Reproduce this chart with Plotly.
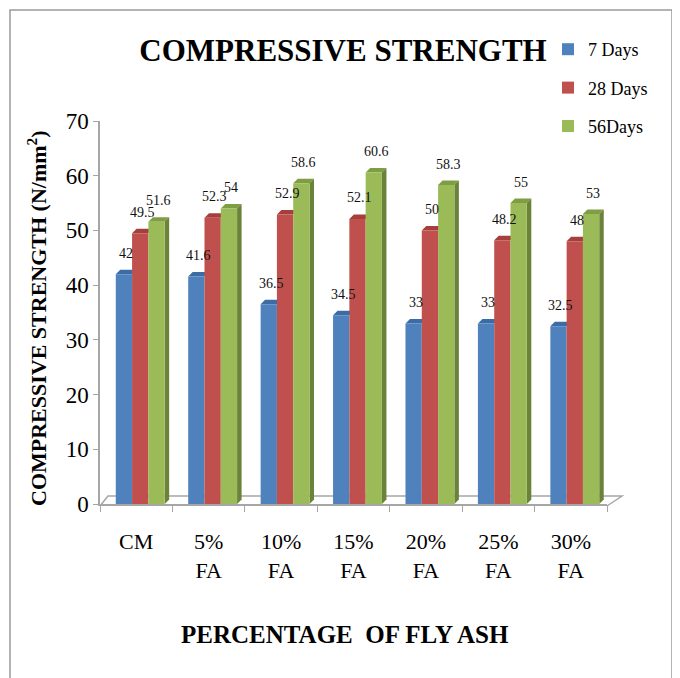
import plotly.graph_objects as go

categories = ["CM", "5%<br>FA", "10%<br>FA", "15%<br>FA", "20%<br>FA", "25%<br>FA", "30%<br>FA"]
days7 = [42, 41.6, 36.5, 34.5, 33, 33, 32.5]
days28 = [49.5, 52.3, 52.9, 52.1, 50, 48.2, 48]
days56 = [51.6, 54, 58.6, 60.6, 58.3, 55, 53]
series_names = ["7 Days", "28 Days", "56Days"]
colors = ["#4F81BD", "#C0504D", "#9BBB59"]
top_colors = ["#3C6CA6", "#A53F3C", "#7F9D43"]
side_colors = ["#375F8F", "#8C3836", "#6A823A"]

FONT = "Liberation Serif, Times New Roman, serif"

# reference pixel geometry (page body has an 8px margin)
OFF = 8
L, R, T, B = 100, 607, 121, 504
PW, PH = 680, 678
W, H = PW - OFF, PH - OFF

def px(x):
    return (x - L) / (R - L)

def py(y):
    return (B - y) / (B - T)

BARGAP = 0.325
nser = 3
bw = (1 - BARGAP) / nser
cat_px = (R - L) / len(categories)
ypx = (B - T) / 70.0
dx = 4.5 / cat_px
dy = 4.5 / ypx
sh = 4.0 / cat_px

fig = go.Figure()
shapes = []
annotations = []
all_vals = [days7, days28, days56]
for k, (name, vals, c) in enumerate(zip(series_names, all_vals, colors)):
    off = (k - nser / 2) * bw + sh
    fig.add_trace(go.Bar(
        x=categories, y=vals, name=name, legendgroup=name,
        width=bw, offset=off,
        marker=dict(color=c, line=dict(width=0)),
        cliponaxis=False,
    ))
    for i, v in enumerate(vals):
        xl = i + off
        xr = xl + bw
        xc = (xl + xr) / 2
        shapes.append(dict(type="path", xref="x", yref="y", layer="between",
                           path=f"M {xl},{v} L {xr},{v} L {xr+dx},{v+dy} L {xl+dx},{v+dy} Z",
                           fillcolor=top_colors[k], line=dict(width=0)))
        if k == nser - 1:
            shapes.append(dict(type="path", xref="x", yref="y", layer="between",
                               path=f"M {xr},0 L {xr+dx},{dy} L {xr+dx},{v+dy} L {xr},{v} Z",
                               fillcolor=side_colors[k], line=dict(width=0)))
        annotations.append(dict(x=xc + dx / 2, y=v + dy, xref="x", yref="y",
                                text=f"{v:g}", showarrow=False, yanchor="bottom",
                                xanchor="center", yshift=7,
                                font=dict(family=FONT, size=14, color="#111")))

shapes += [
    dict(type="rect", xref="paper", yref="paper", x0=px(10), x1=px(672), y0=py(700), y1=py(10),
         line=dict(color="#9a9a9a", width=1.5), layer="below"),
    dict(type="path", xref="paper", yref="paper",
         path=f"M {px(L)},{py(506)} L {px(L + 8)},{py(496)} L {px(622)},{py(496)} L {px(R)},{py(506)}",
         line=dict(color="#a6a6a6", width=1.5), layer="below"),
]

annotations += [
    dict(text="<b>PERCENTAGE  OF FLY ASH</b>", xref="paper", yref="paper", x=px(345), y=py(634),
         showarrow=False, font=dict(family=FONT, size=25, color="black"), xanchor="center", yanchor="middle"),
    dict(text="<b>COMPRESSIVE STRENGTH (N/mm<sup>2</sup>)</b>", xref="paper", yref="paper", x=px(37), y=py(318),
         showarrow=False, textangle=-90, font=dict(family=FONT, size=22, color="black"),
         xanchor="center", yanchor="middle"),
]

fig.update_layout(
    width=W, height=H,
    margin=dict(l=L - OFF, r=PW - R, t=T - OFF, b=PH - B, autoexpand=False),
    paper_bgcolor="white", plot_bgcolor="white",
    barmode="overlay",
    title=dict(text="<b>COMPRESSIVE STRENGTH</b>", x=(343 - OFF) / W, xanchor="center",
               y=1 - (50 - OFF) / H, yanchor="middle", font=dict(family=FONT, size=31, color="black")),
    legend=dict(x=px(548), y=py(31), xanchor="left", yanchor="top",
                font=dict(family=FONT, size=18, color="black"), tracegroupgap=12,
                itemwidth=30, bgcolor="rgba(0,0,0,0)"),
    xaxis=dict(showline=True, linecolor="#a6a6a6", linewidth=1.5, ticks="outside",
               tickcolor="#a6a6a6", ticklen=6, tickson="boundaries", ticklabelstandoff=17,
               tickfont=dict(family=FONT, size=22, color="black"), showgrid=False),
    yaxis=dict(range=[0, 70], dtick=10, showline=True, linecolor="#a6a6a6", linewidth=1.5,
               ticks="outside", tickcolor="#a6a6a6", ticklen=5,
               tickfont=dict(family=FONT, size=23, color="black"), showgrid=False, zeroline=False),
    shapes=shapes, annotations=annotations,
    font=dict(family=FONT),
)

fig.write_html("out.html")
